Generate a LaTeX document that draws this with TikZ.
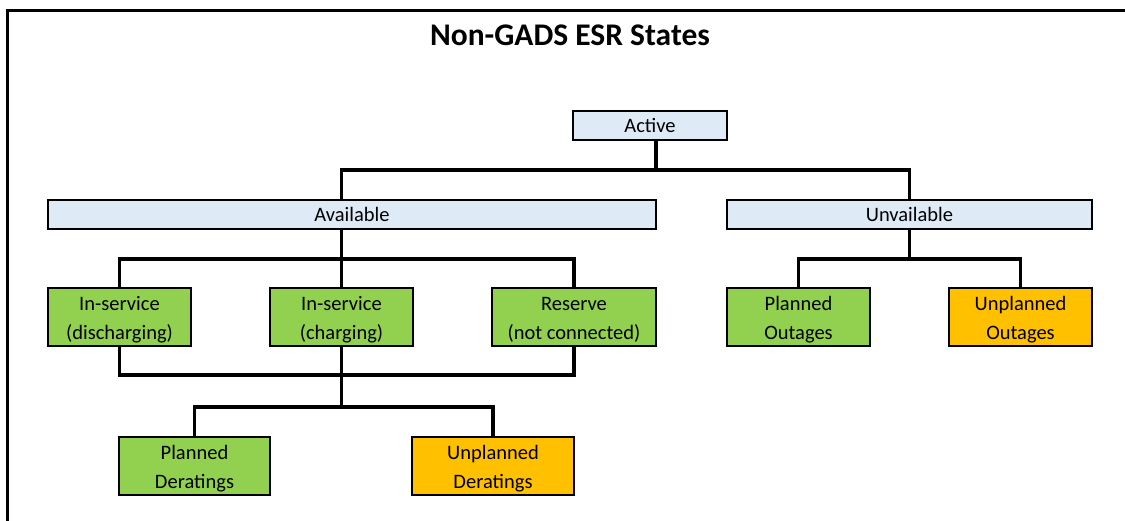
\documentclass[tikz,border=0pt]{standalone}
\usepackage{fontspec}
\setmainfont{Carlito}
\usetikzlibrary{positioning}
\usetikzlibrary{calc}
\usetikzlibrary{backgrounds}

\definecolor{paleblue}{HTML}{DEEBF7}
\definecolor{leafgreen}{HTML}{92D050}
\definecolor{amber}{HTML}{FFC000}

\begin{document}
\begin{tikzpicture}[x=1pt, y=-1pt,
	box/.style={draw, line width=2.6pt, outer sep=0pt, inner sep=0pt, align=center,
		font=\fontsize{20.5}{28.6}\selectfont},
	bluebox/.style={box, fill=paleblue, minimum height=29pt},
	greenbox/.style={box, fill=leafgreen, minimum height=58pt, text height=49.6pt, text depth=5pt},
	orangebox/.style={greenbox, fill=amber},
	link/.style={line width=3.5pt}]

	\useasboundingbox (0,0) rectangle (1125,520);

	\def\rowa{317};
	\def\rowb{466};

	% frame and title
	\draw[line width=3pt] (7,530) -- (7,10) -- (1135,10);
	\node[font=\bfseries\fontsize{31.5}{36}\selectfont] (title) at (570,35) {Non-GADS ESR States};

	% top levels
	\node[bluebox, minimum width=154pt] (active) at (650,125.5) {Active};
	\node[bluebox, minimum width=608pt] (avail) at (352,214.5) {Available};
	\node[bluebox, minimum width=365pt] (unav) at (909.5,214.5) {Unvailable};

	% states
	\foreach \x/\w/\name/\txt in {119.5/143/dis/{In-service\\(discharging)},
		341.5/143/chg/{In-service\\(charging)},
		574/164/res/{Reserve\\(not connected)},
		798.5/143/po/{Planned\\Outages}} {
		\node[greenbox, minimum width=\w pt] (\name) at (\x,\rowa) {\txt};
	}
	\node[orangebox, minimum width=143pt] (uo) at (1020.5,\rowa) {Unplanned\\Outages};

	% deratings
	\node[greenbox, minimum width=151pt] (pd) at (194.5,\rowb) {Planned\\Deratings};
	\node[orangebox, minimum width=162pt] (ud) at (493,\rowb) {Unplanned\\Deratings};

	\begin{scope}[on background layer]
		\draw[link] (active.south -| avail.east) -- ++(0,30) coordinate (j1) -| (avail.north -| chg.north);
		\draw[link] (j1) -| (unav.north);

		\draw[link] (dis.north) -- ++(0,-29) -| (res.north);
		\draw[link] (dis.south) -- ++(0,29) -| (res.south);
		\draw[link] (pd.north) -- ++(0,-30) coordinate (j3) -| (ud.north);
		\draw[link] (avail.south -| chg.north) -- (j3 -| chg.north);

		\draw[link] (unav.south) -- ++(0,30);
		\draw[link] (po.north) -- ++(0,-29) -| (uo.north);
	\end{scope}

\end{tikzpicture}
\end{document}
